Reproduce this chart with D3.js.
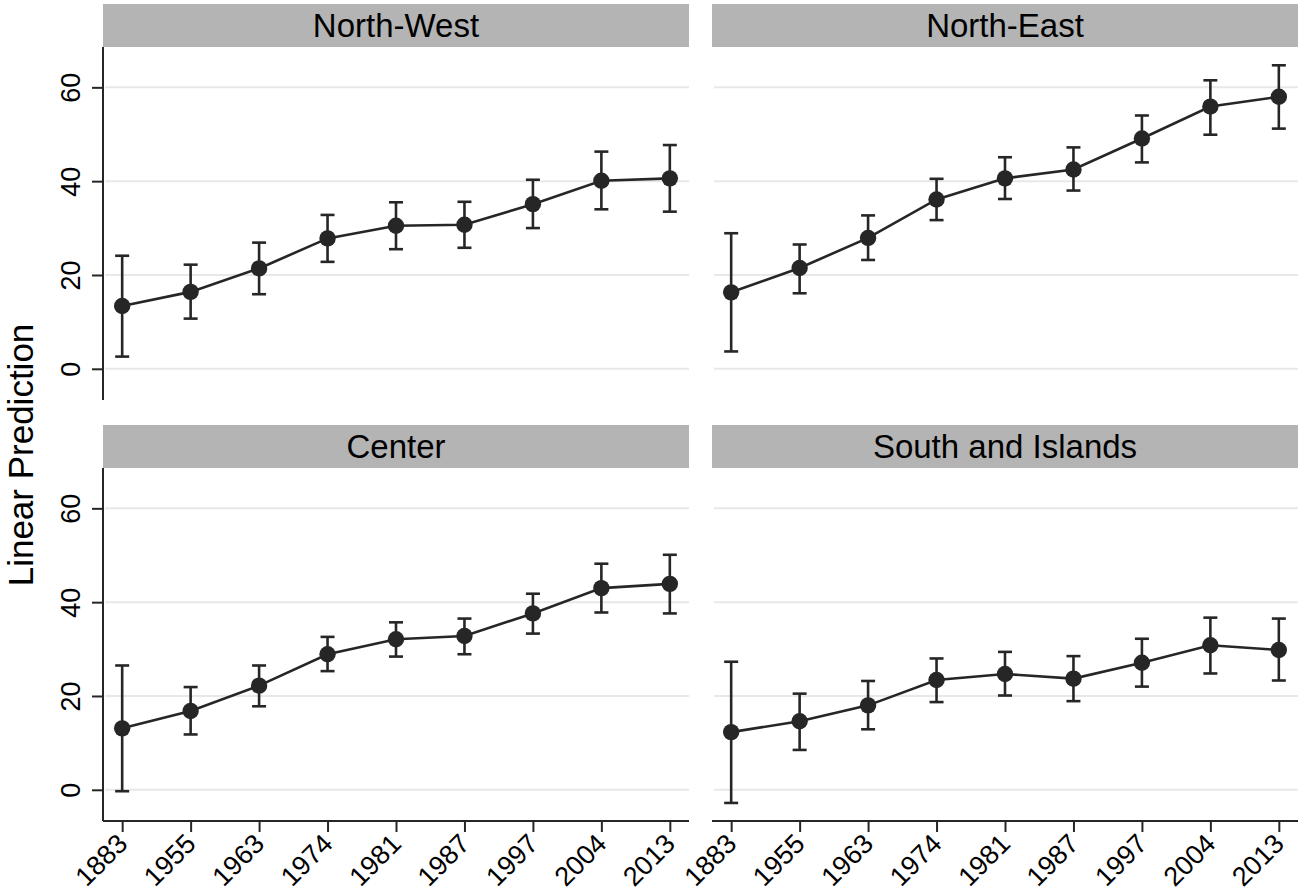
<!DOCTYPE html>
<html>
<head>
<meta charset="utf-8">
<script src="https://cdn.jsdelivr.net/npm/d3@7"></script>
<style>
  body { margin: 0; background: #fff; }
  svg { display: block; font-family: "Liberation Sans", Arial, Helvetica, sans-serif; }
  .tick text { font-family: "Liberation Sans", Arial, Helvetica, sans-serif; }
  .ylab text { font-size: 27px; }
  .xlab text { font-size: 27px; }
</style>
</head>
<body>
<script>
var years = ["1883", "1955", "1963", "1974", "1981", "1987", "1997", "2004", "2013"];
var regions = ["North-West", "North-East", "Center", "South and Islands"];
var yTicks = [0, 20, 40, 60];

// point estimates, then lower / upper bounds of the interval
var northWest = [13.4, 16.4, 21.4, 27.8, 30.5, 30.7, 35.1, 40.1, 40.6];
var northWestLo = [2.6, 10.7, 15.9, 22.8, 25.5, 25.8, 30.0, 34.0, 33.5];
var northWestHi = [24.1, 22.2, 26.9, 32.8, 35.5, 35.6, 40.3, 46.3, 47.7];

var northEast = [16.3, 21.5, 27.9, 36.1, 40.6, 42.5, 49.1, 55.9, 58.0];
var northEastLo = [3.7, 16.1, 23.2, 31.7, 36.2, 38.0, 44.0, 49.9, 51.2];
var northEastHi = [28.9, 26.5, 32.7, 40.5, 45.1, 47.2, 54.0, 61.5, 64.7];

var center = [13.1, 16.8, 22.2, 28.9, 32.1, 32.8, 37.6, 43.0, 43.9];
var centerLo = [-0.3, 11.8, 17.8, 25.3, 28.4, 28.9, 33.3, 37.8, 37.6];
var centerHi = [26.5, 21.9, 26.5, 32.6, 35.7, 36.5, 41.8, 48.2, 50.1];

var south = [12.3, 14.6, 18.0, 23.4, 24.7, 23.7, 27.1, 30.8, 29.8];
var southLo = [-2.8, 8.5, 12.9, 18.7, 20.1, 18.9, 22.0, 24.8, 23.3];
var southHi = [27.3, 20.5, 23.2, 28.0, 29.4, 28.5, 32.2, 36.7, 36.5];

var series = [
  { est: northWest, lo: northWestLo, hi: northWestHi },
  { est: northEast, lo: northEastLo, hi: northEastHi },
  { est: center, lo: centerLo, hi: centerHi },
  { est: south, lo: southLo, hi: southHi }
];

var W = 1303, H = 894;
var svg = d3.select("body").append("svg").attr("width", W).attr("height", H);

var colX = [103, 712], panelW = 586;
var rowY = [47, 468], plotH = 353, stripH = 43;
var ink = "#262626";

var x = d3.scalePoint().domain(years).range([0, panelW]).padding(0.28);
var y = d3.scaleLinear().domain([-6.65, 68.6]).range([plotH, 0]);

regions.forEach(function(name, i) {
  var col = i % 2, row = Math.floor(i / 2);
  var g = svg.append("g").attr("transform", "translate(" + colX[col] + "," + rowY[row] + ")");
  var s = series[i];
  var pts = years.map(function(yr, j) { return { yr: yr, v: s.est[j], lo: s.lo[j], hi: s.hi[j] }; });

  // strip
  g.append("rect").attr("x", 0).attr("y", -stripH).attr("width", panelW).attr("height", stripH)
    .attr("fill", "#b4b4b4");
  g.append("text").attr("x", panelW / 2).attr("y", -10).attr("text-anchor", "middle")
    .style("font-size", "33px").attr("fill", "#000").text(name);

  // grid
  g.selectAll(".grid").data(yTicks).enter().append("line")
    .attr("x1", 2).attr("x2", panelW).attr("y1", function(d) { return y(d); }).attr("y2", function(d) { return y(d); })
    .attr("stroke", "#e8e8e8").attr("stroke-width", 2);

  if (col === 0) {
    var ya = g.append("g").attr("class", "ylab")
      .call(d3.axisLeft(y).tickValues(yTicks).tickSize(11).tickPadding(12));
    ya.attr("font-size", null).attr("font-family", null);
    ya.select(".domain").attr("stroke", ink).attr("stroke-width", 2).attr("d", "M0," + plotH + "V0");
    ya.selectAll(".tick line").attr("stroke", ink).attr("stroke-width", 2);
    ya.selectAll(".tick text").attr("x", null).attr("dy", null)
      .attr("transform", "translate(-23,0) rotate(-90)")
      .attr("text-anchor", "middle").attr("fill", "#000");
  }
  if (row === 1) {
    var xa = g.append("g").attr("class", "xlab").attr("transform", "translate(0," + plotH + ")")
      .call(d3.axisBottom(x).tickSize(11).tickPadding(4));
    xa.attr("font-size", null).attr("font-family", null);
    xa.select(".domain").attr("stroke", ink).attr("stroke-width", 2).attr("d", "M0,0H" + panelW);
    xa.selectAll(".tick line").attr("stroke", ink).attr("stroke-width", 2);
    xa.selectAll(".tick text").attr("y", null).attr("dy", null)
      .attr("transform", "translate(0,18) rotate(-45)")
      .attr("text-anchor", "end").attr("dominant-baseline", "central").attr("fill", "#000");
  }

  // error bars
  var eb = g.selectAll(".eb").data(pts).enter().append("g").attr("stroke", ink).attr("stroke-width", 2.6);
  eb.append("line").attr("x1", function(d) { return x(d.yr); }).attr("x2", function(d) { return x(d.yr); })
    .attr("y1", function(d) { return y(d.lo); }).attr("y2", function(d) { return y(d.hi); });
  eb.append("line").attr("x1", function(d) { return x(d.yr) - 7; }).attr("x2", function(d) { return x(d.yr) + 7; })
    .attr("y1", function(d) { return y(d.lo); }).attr("y2", function(d) { return y(d.lo); });
  eb.append("line").attr("x1", function(d) { return x(d.yr) - 7; }).attr("x2", function(d) { return x(d.yr) + 7; })
    .attr("y1", function(d) { return y(d.hi); }).attr("y2", function(d) { return y(d.hi); });

  var line = d3.line().x(function(d) { return x(d.yr); }).y(function(d) { return y(d.v); });
  g.append("path").datum(pts).attr("d", line).attr("fill", "none").attr("stroke", ink).attr("stroke-width", 2.6);

  g.selectAll(".pt").data(pts).enter().append("circle")
    .attr("cx", function(d) { return x(d.yr); }).attr("cy", function(d) { return y(d.v); })
    .attr("r", 8.2).attr("fill", ink);
});

svg.append("text").attr("transform", "translate(33,455) rotate(-90)")
  .attr("text-anchor", "middle").style("font-size", "35px").attr("fill", "#000")
  .text("Linear Prediction");
</script>
</body>
</html>
